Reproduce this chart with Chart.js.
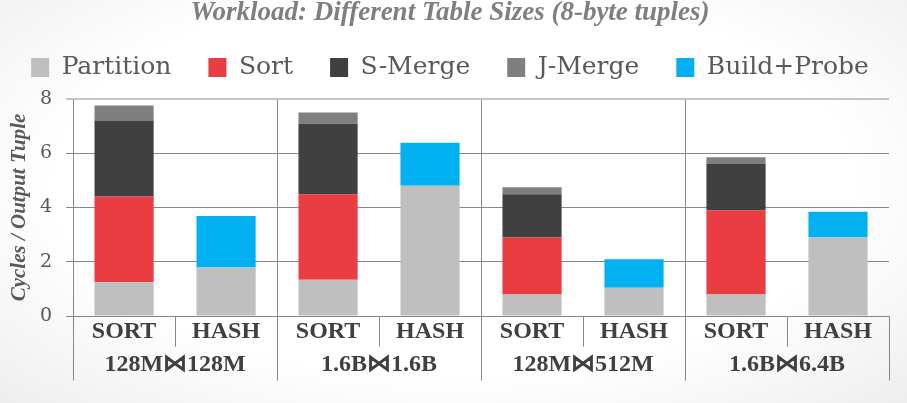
<!DOCTYPE html>
<html><head><meta charset="utf-8">
<script src="https://cdn.jsdelivr.net/npm/chart.js@4.4.0/dist/chart.umd.min.js"></script>
<style>
html,body{margin:0;padding:0;}
body{width:907px;height:403px;overflow:hidden;background:radial-gradient(ellipse at 50% 45%, #ffffff 62%, #eeeeee 100%);}
#wrap{position:relative;width:907px;height:403px;}
</style></head>
<body><div id="wrap"><canvas id="c"></canvas></div>
<script>
const categories = ['SORT','HASH','SORT','HASH','SORT','HASH','SORT','HASH'];
const groups = ['128M\u22C8128M','1.6B\u22C81.6B','128M\u22C8512M','1.6B\u22C86.4B'];
const partition  = [1.24, 1.79, 1.34, 4.80, 0.79, 1.04, 0.79, 2.89];
const sortVals   = [3.17, null, 3.15, null, 2.10, null, 3.11, null];
const sMerge     = [2.80, null, 2.60, null, 1.60, null, 1.70, null];
const jMerge     = [0.55, null, 0.41, null, 0.26, null, 0.25, null];
const buildProbe = [null, 1.90, null, 1.59, null, 1.05, null, 0.95];
const yTicks = [0, 2, 4, 6, 8];

const SERIF = "'Liberation Serif', 'DejaVu Serif', serif";
const SERIF_REG = "'DejaVu Serif', serif";
const GRID = '#878787';

const separators = {
  id: 'separators',
  afterDraw(chart) {
    const {ctx, scales: {x, x2}} = chart;
    const perGroup = categories.length / groups.length;
    ctx.save();
    ctx.strokeStyle = GRID;
    ctx.lineWidth = 1;
    for (let i = 0; i <= categories.length; i++) {
      const px = Math.round(x.getPixelForValue(i - 0.5)) + 0.5;
      const bottom = (i % perGroup === 0) ? x2.bottom - 3 : x.bottom;
      ctx.beginPath();
      ctx.moveTo(px, x.top);
      ctx.lineTo(px, bottom);
      ctx.stroke();
    }
    ctx.restore();
  }
};

const legendSpacer = {
  id: 'legendSpacer',
  beforeLayout(chart) {
    const lg = chart.legend;
    if (!lg || lg._patched) return;
    const orig = lg.fit;
    lg.fit = function () {
      const mw = this.maxWidth;
      this.maxWidth = 4000;
      orig.call(this);
      this.maxWidth = mw;
      this.width = Math.min(this.width, mw);
      this.height += 9;
    };
    lg._patched = true;
  },
  afterLayout(chart) {
    const lg = chart.legend;
    if (!lg) return;
    lg.left -= 60;
    lg.right += 60;
  }
};

const chart = new Chart(document.getElementById('c'), {
  type: 'bar',
  data: {
    labels: categories,
    datasets: [
      {label: 'Partition', data: partition, backgroundColor: '#bfbfbf'},
      {label: 'Sort', data: sortVals, backgroundColor: '#e93d42'},
      {label: 'S-Merge', data: sMerge, backgroundColor: '#404040'},
      {label: 'J-Merge', data: jMerge, backgroundColor: '#7f7f7f'},
      {label: 'Build+Probe', data: buildProbe, backgroundColor: '#00b0f0'}
    ]
  },
  options: {
    responsive: true,
    maintainAspectRatio: false,
    animation: false,
    devicePixelRatio: 1,
    categoryPercentage: 1,
    barPercentage: 0.58,
    borderWidth: 0,
    layout: {padding: {left: 11, right: 18, top: 0, bottom: 19.4}},
    plugins: {
      tooltip: {enabled: false},
      title: {
        display: true,
        text: 'Workload: Different Table Sizes (8-byte tuples)',
        font: {family: SERIF, size: 27, weight: 'bold', style: 'italic'},
        color: '#7f7f7f',
        padding: {top: -3.2, bottom: -11.2}
      },
      legend: {
        display: true,
        position: 'top',
        labels: {
          font: {family: SERIF_REG, size: 25},
          color: '#595959',
          boxWidth: 18,
          boxHeight: 19,
          padding: 37
        }
      }
    },
    scales: {
      x: {
        stacked: true,
        offset: true,
        grid: {
          offset: true,
          drawTicks: false,
          color: c => (c.index !== undefined && c.index > 0 && c.index < categories.length && c.index % 2 === 0) ? GRID : 'rgba(0,0,0,0)',
          lineWidth: 1
        },
        border: {display: true, color: GRID, width: 1},
        ticks: {
          autoSkip: false, maxRotation: 0,
          font: {family: SERIF, size: 24, weight: 'bold'},
          color: '#404040',
          padding: 1
        }
      },
      x2: {
        type: 'category',
        labels: groups,
        position: 'bottom',
        offset: true,
        grid: {display: false, drawTicks: false},
        border: {display: false},
        ticks: {
          autoSkip: false, maxRotation: 0,
          font: {family: SERIF, size: 24, weight: 'bold'},
          color: '#404040',
          padding: 4
        }
      },
      y: {
        stacked: true,
        min: 0,
        max: 8,
        afterBuildTicks: s => { s.ticks = yTicks.map(v => ({value: v})); },
        grid: {
          color: c => (c.tick && c.tick.value === 8) ? '#c4c4c4' : GRID,
          lineWidth: c => (c.tick && c.tick.value === 8) ? 2 : 1,
          tickLength: 7,
          drawTicks: true
        },
        border: {display: true, color: GRID, width: 1},
        ticks: {
          font: {family: SERIF_REG, size: 19},
          color: '#595959',
          padding: 14
        },
        title: {
          display: true,
          text: 'Cycles / Output Tuple',
          font: {family: SERIF, size: 21, weight: 'bold', style: 'italic'},
          color: '#595959',
          padding: {top: -3.6, bottom: -6.6}
        }
      }
    }
  },
  plugins: [separators, legendSpacer]
});
</script>
</body></html>
